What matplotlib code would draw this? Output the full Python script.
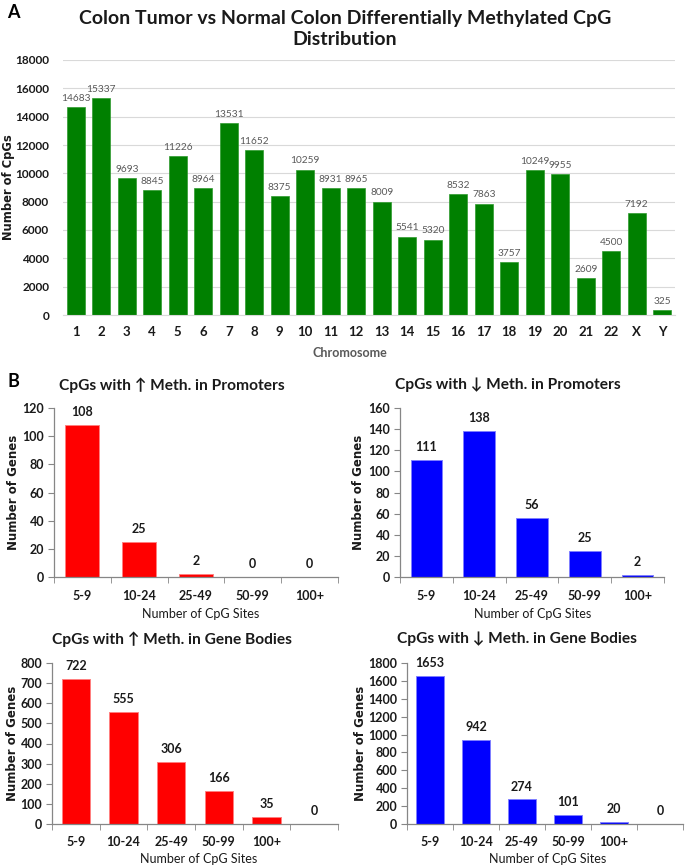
import numpy as np
import matplotlib
matplotlib.use('Agg')
import matplotlib.pyplot as plt

plt.rcParams['font.family'] = ['Lato', 'DejaVu Sans']

# Panel A data
chromosomes = [str(i) for i in range(1, 23)] + ['X', 'Y']
cpg_counts = [14683, 15337, 9693, 8845, 11226, 8964, 13531, 11652, 8375, 10259,
              8931, 8965, 8009, 5541, 5320, 8532, 7863, 3757, 10249, 9955,
              2609, 4500, 7192, 325]

# Panel B data
promoter_bins = ['5-9', '10-24', '25-49', '50-99', '100+']
up_promoters = [108, 25, 2, 0, 0]
down_promoters = [111, 138, 56, 25, 2]
body_bins = ['5-9', '10-24', '25-49', '50-99', '100+', '']
up_bodies = [722, 555, 306, 166, 35, 0]
down_bodies = [1653, 942, 274, 101, 20, 0]

W, H = 685.0, 865.0
AXIS_GRAY = '#868686'


def fx(px):
    return px / W


def fy(py):
    return 1 - py / H


def box(x0, y0, x1, y1):
    # pixel box (top-left origin) -> figure rect
    return [fx(x0), fy(y1), (x1 - x0) / W, (y1 - y0) / H]


def gene_bar_chart(fig, rect, bins, counts, color, edge, ymax, ystep,
                   title, title_xy, ylabel_x, xlabel_xy):
    ax = fig.add_axes(rect)
    x = np.arange(len(bins))
    ax.bar(x, counts, width=0.6, color=color, edgecolor=edge, linewidth=0.7)
    for xi, c in zip(x, counts):
        ax.annotate(str(c), (xi, c), xytext=(0, 5), textcoords='offset points',
                    ha='center', va='bottom', fontsize=9, fontweight='bold',
                    color='#1a1a1a')
    ax.set_xlim(-0.5, len(bins) - 0.5)
    ax.set_ylim(0, ymax)
    ax.set_yticks(np.arange(0, ymax + 1, ystep))
    ax.set_xticks(x)
    ax.set_xticklabels(bins)
    # ticks between categories, excel style
    ax.set_xticks(np.arange(-0.5, len(bins)), minor=True)
    ax.tick_params(axis='x', which='major', length=0, pad=9, labelsize=9)
    ax.tick_params(axis='x', which='minor', length=4, color=AXIS_GRAY)
    ax.tick_params(axis='y', length=4, color=AXIS_GRAY, labelsize=9, pad=3)
    for lbl in ax.get_xticklabels() + ax.get_yticklabels():
        lbl.set_fontweight('bold')
        lbl.set_color('#1a1a1a')
    for side in ['top', 'right']:
        ax.spines[side].set_visible(False)
    for side in ['left', 'bottom']:
        ax.spines[side].set_color(AXIS_GRAY)
        ax.spines[side].set_linewidth(0.9)

    fig.text(fx(title_xy[0]), fy(title_xy[1]), title, ha='center', va='center',
             fontsize=11.2, fontweight='bold', color='#1a1a1a')
    cy = (rect[1] + rect[3] / 2)
    fig.text(fx(ylabel_x), cy, 'Number of Genes', rotation=90, ha='center',
             va='center', fontsize=8.5, fontweight='bold', family='DejaVu Sans',
             color='#1a1a1a')
    fig.text(fx(xlabel_xy[0]), fy(xlabel_xy[1]), 'Number of CpG Sites',
             ha='center', va='center', fontsize=9, color='#1a1a1a')
    return ax


fig = plt.figure(figsize=(6.85, 8.65), dpi=100)

# ---------------- Panel A ----------------
axA = fig.add_axes(box(63, 60, 675, 315))
xa = np.arange(len(chromosomes))
axA.bar(xa, cpg_counts, width=0.72, color='#008000', edgecolor='#2e9a2e', linewidth=0.5)
for xi, c in zip(xa, cpg_counts):
    axA.annotate(str(c), (xi, c), xytext=(0, 3), textcoords='offset points',
                 ha='center', va='bottom', fontsize=7.3, color='#595959')
axA.set_xlim(-0.5, len(chromosomes) - 0.5)
axA.set_ylim(0, 18000)
axA.set_yticks(np.arange(0, 18001, 2000))
axA.yaxis.grid(True, color='#d9d9d9', linewidth=0.8)
axA.set_axisbelow(True)
axA.set_xticks(xa)
axA.set_xticklabels(chromosomes)
axA.tick_params(axis='x', length=0, pad=8, labelsize=9.5)
axA.tick_params(axis='y', length=0, pad=10, labelsize=8.5)
for lbl in axA.get_xticklabels() + axA.get_yticklabels():
    lbl.set_fontweight('bold')
    lbl.set_color('#1a1a1a')
for side in ['top', 'right', 'left']:
    axA.spines[side].set_visible(False)
axA.spines['bottom'].set_color('#d9d9d9')

fig.text(fx(345), fy(29), 'Colon Tumor vs Normal Colon Differentially Methylated CpG\nDistribution',
         ha='center', va='center', fontsize=14, fontweight='bold',
         color='#1a1a1a', linespacing=1.3)
fig.text(fx(9), fy(187), 'Number of CpGs', rotation=90, ha='center', va='center',
         fontsize=8.3, fontweight='bold', family='DejaVu Sans', color='#1a1a1a')
fig.text(fx(350), fy(353), 'Chromosome', ha='center', va='center',
         fontsize=9, fontweight='bold', color='#595959')

fig.text(fx(13), fy(12), 'A', ha='center', va='center', fontsize=13, fontweight='bold')
fig.text(fx(13), fy(381), 'B', ha='center', va='center', fontsize=13, fontweight='bold')

# ---------------- Panel B ----------------
gene_bar_chart(fig, box(54, 408, 338, 577), promoter_bins, up_promoters,
               '#ff0000', '#ff8080', 120, 20,
               'CpGs with \u2191 Meth. in Promoters', (172, 385), 14, (201, 614))
gene_bar_chart(fig, box(400, 408, 664, 577), promoter_bins, down_promoters,
               '#0000ff', '#8080ff', 160, 20,
               'CpGs with \u2193 Meth. in Promoters', (508, 385), 359, (533, 614))
gene_bar_chart(fig, box(52, 663, 338, 824), body_bins, up_bodies,
               '#ff0000', '#ff8080', 800, 100,
               'CpGs with \u2191 Meth. in Gene Bodies', (172, 639), 13, (199, 859))
gene_bar_chart(fig, box(407, 663, 683, 824), body_bins, down_bodies,
               '#0000ff', '#8080ff', 1800, 200,
               'CpGs with \u2193 Meth. in Gene Bodies', (517, 639), 360, (548, 859))

plt.savefig('out.png', dpi=100)
